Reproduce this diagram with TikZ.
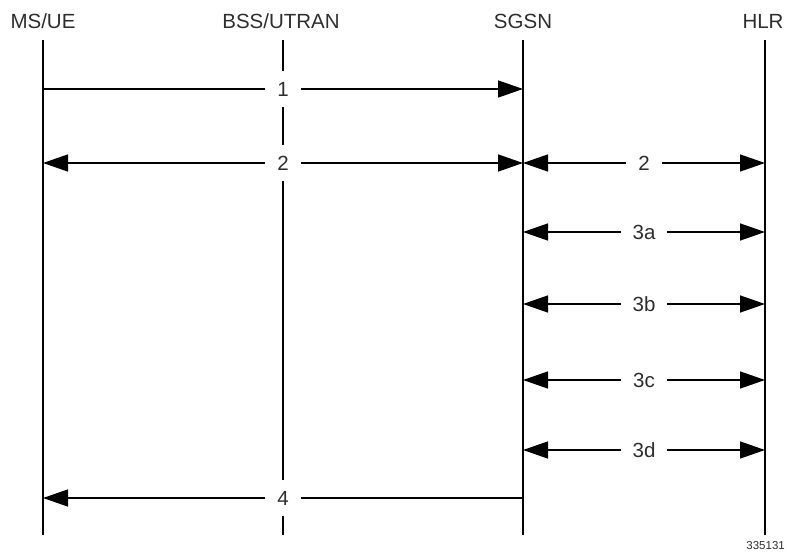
\documentclass[tikz,border=0pt]{standalone}
\usepackage{fontspec}
\setmainfont{Liberation Sans}
\usetikzlibrary{arrows.meta}
\definecolor{txt}{gray}{0.18}
\tikzset{
  life/.style={line width=2.7pt, black},
  msg/.style={line width=1.4pt, black},
  tip/.style={-{Triangle[length=25pt,width=17pt]}},
  bitip/.style={{Triangle[length=25pt,width=17pt]}-{Triangle[length=25pt,width=17pt]}},
  head/.style={text=txt, font=\fontsize{20.5}{23}\selectfont, inner sep=0pt},
  lbl/.style={text=txt, font=\fontsize{20.5}{23}\selectfont, fill=white, inner xsep=12pt,
              inner ysep=0pt, minimum height=36pt, text height=14.5pt, text depth=0pt},
  foot/.style={text=txt, font=\fontsize{11.5}{13}\selectfont, inner sep=0pt}
}
\begin{document}
\begin{tikzpicture}[x=1pt,y=-1pt]
\useasboundingbox (0,0) rectangle (787,553);
% headers
\node[head] (hms)  at (43,21)  {MS/UE};
\node[head] (hbss) at (281,21) {BSS/UTRAN};
\node[head] (hsg)  at (523,21) {SGSN};
\node[head] (hhlr) at (763,21) {HLR};
% lifeline ends
\coordinate (msT) at (43,40);   \coordinate (msB) at (43,535);
\coordinate (bsT) at (283,40);  \coordinate (bsB) at (283,535);
\coordinate (sgT) at (523,40);  \coordinate (sgB) at (523,535);
\coordinate (hlT) at (765,40);  \coordinate (hlB) at (765,535);
\draw[life] (msT) -- (msB);
\draw[life] (bsT) -- (bsB);
\draw[life] (sgT) -- (sgB);
\draw[life] (hlT) -- (hlB);
% message end points
\coordinate (ms1) at (43,89);   \coordinate (sg1) at (523,89);
\coordinate (ms2) at (43,163);  \coordinate (sg2) at (523,163);  \coordinate (hl2) at (765,163);
\coordinate (sg3a) at (523,232); \coordinate (hl3a) at (765,232);
\coordinate (sg3b) at (523,304); \coordinate (hl3b) at (765,304);
\coordinate (sg3c) at (523,380); \coordinate (hl3c) at (765,380);
\coordinate (sg3d) at (523,450); \coordinate (hl3d) at (765,450);
\coordinate (ms4) at (43,498);  \coordinate (sg4) at (523,498);
% messages
\draw[msg,tip]   (ms1) -- (sg1) node[lbl,midway] (l1) {1};
\draw[msg,bitip] (ms2) -- (sg2) node[lbl,midway] (l2) {2};
\draw[msg,bitip] (sg2) -- (hl2) node[lbl,midway] (l2b) {2};
\draw[msg,bitip] (sg3a) -- (hl3a) node[lbl,midway] (l3a) {3a};
\draw[msg,bitip] (sg3b) -- (hl3b) node[lbl,midway] (l3b) {3b};
\draw[msg,bitip] (sg3c) -- (hl3c) node[lbl,midway] (l3c) {3c};
\draw[msg,bitip] (sg3d) -- (hl3d) node[lbl,midway] (l3d) {3d};
\draw[msg,tip]   (sg4) -- (ms4) node[lbl,midway] (l4) {4};
% figure number
\node[foot, anchor=east] (fig) at (785,546) {335131};
\end{tikzpicture}
\end{document}
